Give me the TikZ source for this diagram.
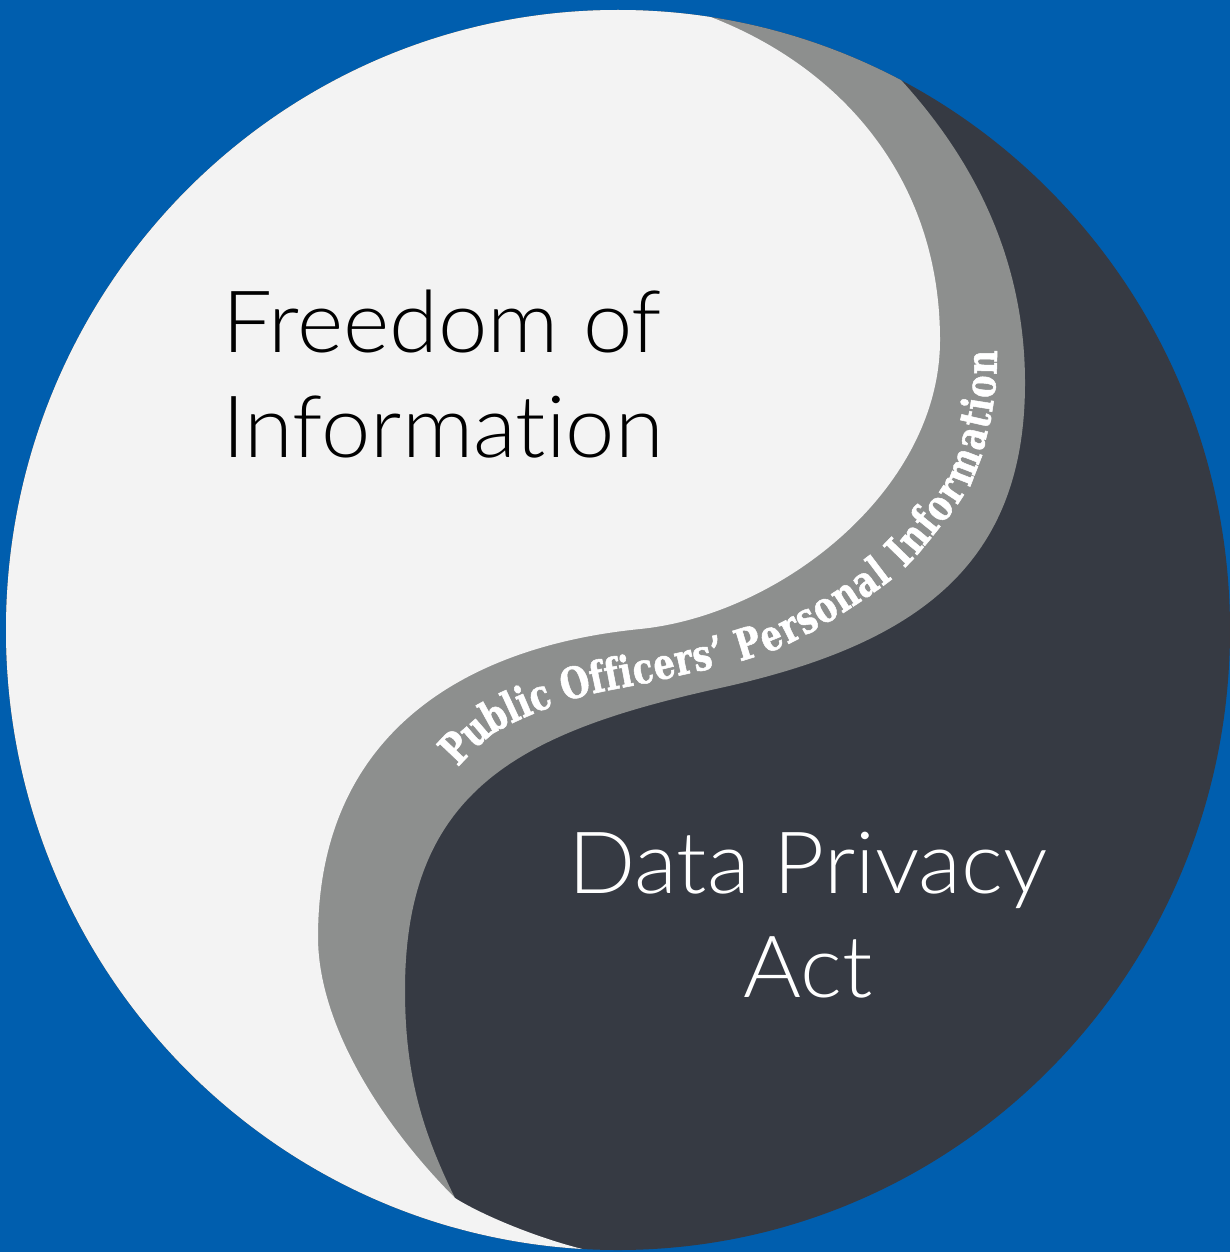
\documentclass[tikz,border=0pt]{standalone}
\usepackage{fontspec}
\usetikzlibrary{decorations.text}
\newfontfamily\avenir{Lato}[UprightFont={* Light}, Ligatures=NoCommon, FakeStretch=1.03]
\newfontfamily\bandfont{DejaVu Serif}[FakeStretch=0.78, BoldFeatures={FakeBold=1.2}]
\definecolor{bgblue}{HTML}{005EAE}
\definecolor{lightpart}{HTML}{F3F3F3}
\definecolor{graypart}{HTML}{8D8F8E}
\definecolor{darkpart}{HTML}{363A43}
\tikzset{
  bigtext/.style={inner sep=0pt, font=\avenir\fontsize{86}{100}\selectfont},
  fotext/.style={bigtext, text=black, anchor=base west},
  dptext/.style={bigtext, text=white, anchor=base},
}
\begin{document}
\begin{tikzpicture}[x=1pt,y=-1pt]
\useasboundingbox (0,0) rectangle (1230,1252);
\fill[bgblue] (0,0) rectangle (1230,1252);
\begin{scope}
  \clip (618,630) ellipse [x radius=612, y radius=620];
  \fill[darkpart] (0,0) rectangle (1230,1252);
  % gray band: everything left of the gray/dark boundary
  \fill[graypart] (880,-20) -- (880,58)
    .. controls (950,128) and (1025,233) .. (1025,383)
    .. controls (1025,563) and (920,644) .. (720,688)
    .. controls (520,732) and (405,790) .. (405,990)
    .. controls (405,1070) and (420,1127) .. (455,1198)
    -- (445,1290) -- (-20,1290) -- (-20,-20) -- cycle;
  % light part: everything left of the light/gray boundary
  \fill[lightpart] (688,-20) -- (688,9)
    .. controls (830,55) and (940,170) .. (940,340)
    .. controls (940,490) and (780,615) .. (640,629)
    .. controls (460,647) and (318,737) .. (318,937)
    .. controls (318,1027) and (385,1128) .. (455,1198)
    .. controls (480,1214) and (540,1240) .. (595,1252)
    -- (620,1290) -- (-20,1290) -- (-20,-20) -- cycle;
\end{scope}
% curved label in the band
\path[decorate, decoration={text along path,
    text={|\bandfont\bfseries\fontsize{43}{43}\selectfont\color{white}|Public Officers’ Personal Information},
    text align={fit to path}, raise=-15pt}]
  plot[smooth, tension=0.55] coordinates {
    (447,757) (490,718) (571,684) (663,664) (774,634) (878,571) (928,518)
    (959,473) (975,420) (981,380) (982,350)};
\node[fotext] (foi1) at (222,352) {Freedom of};
\node[fotext] (foi2) at (222,457) {Information};
\node[dptext] (dpa1) at (808,893) {Data Privacy};
\node[dptext] (dpa2) at (808,997) {Act};
\end{tikzpicture}
\end{document}
